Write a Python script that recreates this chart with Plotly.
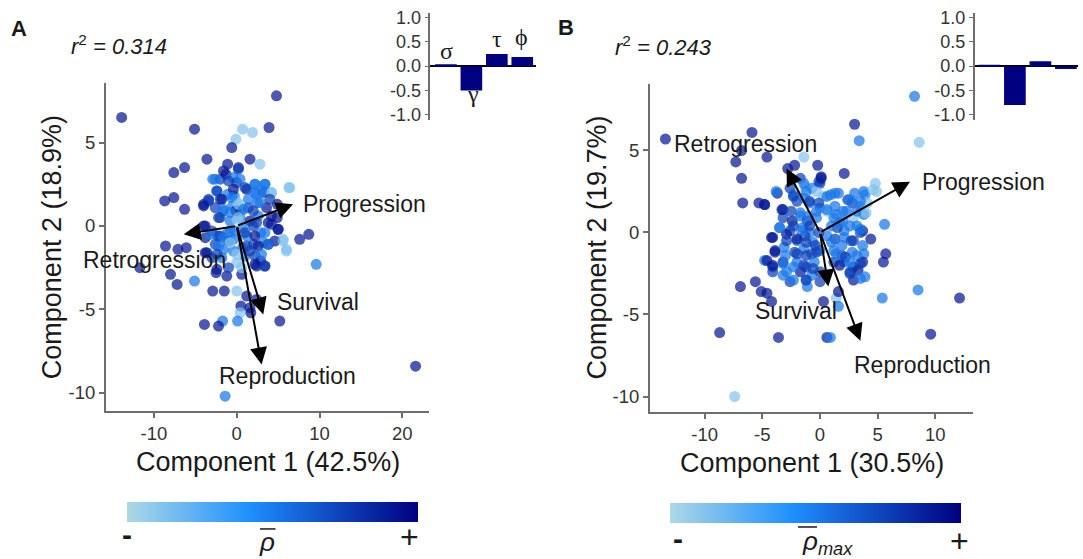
import plotly.graph_objects as go

W, H = 1083, 559
D, M, L = 0.9, 0.52, 0.12
C = 0.74  # darker shade found in the dense cores

# ---------------- Panel A: PCA scores (outer points) ----------------
a_x = [-13.9, 4.8, -5.1, 3.9, 0.7, 1.9, -0.1, -0.6, -3.6, 1.6, 2.8, -6.3, -7.6, -1.1, 0.2, 6.3, 4.2,
       -8.7, -7.6, -6.3, 5.0, 7.6, 8.7, 5.6, 6.0, 9.6, -8.6, -7.1, -6.1, -11.7, -8.0, -7.2, -5.1,
       -2.9, -1.5, 0.0, -2.5, -1.2, 0.6, 2.4, 3.4, 1.2, 0.5, 2.4, 0.4, 0.1, 1.7, -1.7, -3.9, -2.2,
       5.2, 21.6, -1.4,
       -2.9, -2.0, -1.3, -0.4, 0.0, 2.2, 3.4, 1.2, 2.2, 3.2, -2.4, -3.4, -2.0, -1.1, -0.3, -4.0,
       -2.6, -1.6, -0.5, 0.4, 1.4, 2.5, 3.6, 4.9, 0.1, -2.0, -0.8, 0.4, 1.6, 2.6, 3.8, 4.9, 0.0,
       -4.0, -3.0, -3.8, -2.3, -1.1, -0.3, 0.7, 2.0, 2.9, 4.2, -0.8, -2.6, -1.6, -0.4, 0.7, 2.0,
       3.2, 3.8, 4.6, -3.8, -3.0, -1.8, 0.0, 1.0, 2.2, 2.9, 1.6, -1.0, 1.2, -0.1, 0.6]
a_y = [6.5, 7.8, 5.8, 5.9, 5.8, 5.6, 5.2, 4.7, 4.0, 4.0, 3.7, 3.5, 3.2, 3.7, 3.5, 2.3, 2.0,
       1.5, 1.7, 1.0, -0.2, -0.8, -0.5, -0.8, -1.4, -2.3, -1.2, -1.4, -1.3, -2.5, -2.9, -3.5, -3.3,
       -3.9, -3.9, -3.9, -2.8, -3.0, -2.9, -2.4, -2.4, -4.2, -4.8, -4.4, -5.2, -5.7, -5.2, -5.7, -5.9, -6.0,
       -5.7, -8.4, -10.2,
       2.8, 2.8, 3.1, 2.9, 2.6, 2.5, 2.5, 2.2, 2.0, 2.0, 2.1, 1.5, 1.6, 1.9, 1.8, 1.3,
       1.1, 0.9, 1.2, 0.9, 1.1, 1.4, 1.1, 1.3, 1.4, 0.5, 0.3, 0.5, 0.3, 0.6, 0.2, 0.5, 0.4,
       0.0, -0.3, -0.7, -0.6, -0.4, -0.3, -0.1, 0.0, -0.4, 0.1, -0.8, -1.1, -1.4, -1.5, -1.3, -1.1,
       -1.0, -1.1, -0.9, -1.6, -1.9, -1.9, -2.2, -1.8, -1.8, -2.1, -4.9, -0.9, -0.6, 0.9, -2.5]
a_rho = [D, D, D, D, L, L, L, D, D, D, L, D, D, D, D, L, L,
         D, D, D, D, D, D, L, L, M, D, D, D, D, D, D, M,
         D, D, L, D, D, D, D, D, D, D, D, L, M, D, M, D, D,
         D, D, M,
         M, C, D, M, C, M, M, D, M, C, M, D, C, M, M, D,
         C, M, M, M, C, M, D, D, L, C, M, M, D, M, D, D, L,
         D, C, D, C, M, M, M, C, M, D, L, C, M, M, M, C,
         M, D, D, D, C, M, L, M, C, D, D, C, M, D, L]

# Panel A: dense core
a_core_x = [-1.6, 0.2, -2.6, -1.0, 0.4, 2.2, 3.4, -2.4, -0.4, 1.0, 2.4, 3.2, 4.2, 6.4, -3.4, -1.8,
            -0.6, 1.4, 2.8, 4.0, -4.0, 0.2, -1.6, -0.8, 0.8, 2.0, 4.2, -2.2, 0.2, 2.4, 5.0, -3.8,
            -3.2, -2.0, -0.8, -1.6, -0.4, 1.0, 2.2, 3.4, 3.8, 5.6, 6.0, -2.2, -0.8, 1.2, 2.6, -3.6,
            -2.4, 0.0, 1.6, 3.0, 2.2, 3.4, -2.4, -1.0]
a_core_y = [3.3, 3.4, 2.8, 2.7, 2.8, 2.5, 2.5, 2.1, 2.2, 2.3, 1.9, 2.1, 2.0, 2.3, 1.6, 1.6,
            1.7, 1.6, 1.4, 1.6, 1.2, 1.3, 1.0, 0.8, 1.0, 0.9, 0.6, 0.5, 0.5, 0.2, -0.2, 0.0,
            -0.5, -0.6, -0.3, -0.7, -0.8, -0.4, -0.6, -0.4, -1.1, -0.9, -1.5, -1.2, -1.0, -1.2, -1.2, -1.6,
            -1.7, -1.7, -1.5, -1.7, -2.3, -2.4, -2.6, -2.5]
a_core_rho = [D, C, M, C, M, M, M, C, D, C, M, M, L, L, C, D,
              M, M, M, C, D, L, M, M, M, C, D, C, L, C, D, D,
              M, C, M, M, M, C, D, M, M, L, L, M, L, C, D, D,
              C, L, C, M, D, C, D, C]

# ---------------- Panel B: PCA scores (outer points) ----------------
b_x = [-13.4, 8.2, 8.6, 3.0, 3.4, -5.9, -7.3, -6.8, -4.6, -6.8, -6.7, -5.3, -4.8, -1.4, -0.2, 2.1,
       0.1, 4.8, 4.9, 3.9, 5.6, 3.7, 4.4, 5.7, 5.5, -3.7, -8.7, -6.9, -5.6, -5.1, -4.6, -4.2, -3.6,
       0.6, 0.9, 8.5, 5.4, 12.1, 9.6, -7.4, 0.3, 1.4,
       -2.8, -2.2, -1.7, 0.0, -1.3, -0.7, -0.3, -3.2, -2.3, -2.0, -1.4, -0.9, 0.3, 0.9, 1.6, 2.4,
       3.0, 0.0, 0.6, 1.3, 2.0, 2.8, 3.5, 4.1, -3.2, -2.4, -1.7, -1.1, -0.3, -3.5, -4.1, -2.6,
       -1.5, -0.9, 1.2, 2.0, 2.9, 3.8, 3.2, 2.1, 1.5, -2.9, -2.0, -1.3, -0.6, 0.6, 1.3, 2.1, 2.9,
       3.7, 3.5, -3.9, -3.1, -2.2, -1.4, -0.7, 0.0, 1.2, 1.9, 2.8, 3.8, -4.8, -4.1, -3.2, -2.0,
       -1.2, -0.5, 1.2, 2.1, 2.9, 3.7, -4.1, -2.9, -1.7, -0.7, 0.0, 2.6, 3.3, -2.6, -1.2, 0.0,
       2.9, 3.9, -1.1, 1.6, 1.6]
b_y = [5.7, 8.3, 5.5, 6.6, 5.6, 6.1, 4.3, 5.0, 4.6, 3.3, 1.8, 1.8, 1.7, 4.6, 4.1, 3.6,
       3.4, 3.0, 2.5, 2.3, 0.5, 0.1, -0.4, -1.3, -1.8, 2.4, -6.1, -3.3, -3.0, -3.6, -3.7, -4.2, -6.4,
       -6.4, -6.4, -3.5, -4.0, -4.0, -6.2, -10.0, -4.2, -4.0,
       3.9, 4.1, 3.3, 3.0, 2.8, 2.7, 2.5, 1.4, 2.3, 1.9, 2.1, 1.8, 2.2, 2.3, 2.4, 2.0,
       2.4, 1.5, 1.3, 1.6, 1.3, 1.8, 1.6, 1.8, 0.9, 0.7, 1.0, 0.7, 0.9, 0.3, -0.3, 0.1,
       0.3, 0.0, 0.9, 0.7, 0.9, 1.1, 0.4, 0.1, 0.3, -0.1, -0.5, -0.2, -0.6, -0.2, -0.4, -0.3, -0.5,
       -0.8, 0.0, -1.1, -0.9, -1.2, -1.0, -1.3, -1.1, -1.1, -1.4, -1.2, -1.3, -1.7, -2.1, -1.8, -1.8,
       -2.1, -1.8, -1.8, -1.8, -2.1, -1.8, -2.4, -2.4, -2.4, -2.6, -2.4, -2.4, -2.3, -3.0, -2.9, -3.0,
       -2.9, -2.7, -3.3, -3.6, -4.5]
b_rho = [D, M, L, D, M, D, D, D, D, D, D, D, D, L, D, D,
         D, L, L, M, M, D, D, D, D, D, D, D, D, D, D, D, D,
         D, M, M, M, D, D, L, D, L,
         D, D, C, C, L, M, L, C, M, C, M, M, L, M, M, C,
         M, M, L, M, M, C, M, L, C, D, M, C, M, M, D, C,
         M, M, M, M, L, M, M, M, C, D, M, C, M, M, C, M, C,
         M, C, D, M, C, M, C, M, M, C, M, M, M, C, D, M,
         C, M, C, M, C, D, C, M, D, M, C, C, D, C, M, C,
         D, M, M, D, M]

# Panel B: dense core
b_core_x = [-4.8, -3.8, -2.6, -2.3, -1.4, -1.2, -0.1, 0.1, -0.9, -0.1, 0.6, 1.3, 2.6, 3.5, 3.8, 4.6,
            -3.3, -2.5, -1.7, -1.0, -0.3, 0.6, 1.4, 2.3, 3.2, 4.0, -4.2, -3.5, -2.3, -1.6, -0.9, -0.1,
            1.0, 1.7, 2.6, 3.5, -2.9, -2.0, -1.2, -0.4, 1.0, 1.9, 2.7, -3.9, -3.0, -2.0, -1.2, -0.3,
            1.4, 2.2, 3.2, -4.6, -4.1, -3.2, -2.3, -1.4, -0.6, 1.7, 2.6, 3.5, -3.2, -2.3, 2.6, 3.5, -1.2]
b_core_y = [1.7, 2.5, 2.7, 2.2, 3.0, 2.5, 3.1, 3.3, 1.9, 1.8, 2.2, 2.4, 2.0, 1.9, 2.5, 2.6,
            1.4, 1.3, 1.2, 1.0, 1.3, 1.4, 1.1, 1.3, 1.3, 1.2, -0.3, 0.3, 0.4, 0.1, 0.4, 0.0,
            0.4, 0.6, 0.4, 0.2, -0.5, -0.4, -0.6, -0.8, -0.6, -0.8, -0.5, -1.2, -1.4, -1.3, -1.4, -1.2,
            -1.3, -1.5, -1.4, -1.7, -2.0, -1.9, -2.1, -2.0, -2.2, -2.0, -1.8, -1.9, -2.6, -2.9, -2.5, -2.8, -2.9]
b_core_rho = [D, M, C, C, M, M, C, D, C, C, M, M, M, M, M, L,
              D, C, M, M, M, M, M, M, M, L, D, M, C, M, C, C,
              M, M, M, M, C, D, C, C, M, M, C, D, M, C, C, C,
              M, C, M, D, D, M, M, C, C, D, M, C, M, M, C, M, C]

# ---------------- loadings (arrows) ----------------
arrow_names = ["Progression", "Retrogression", "Survival", "Reproduction"]
a_load_x = [6.8, -6.4, 3.2, 3.0]
a_load_y = [1.3, -0.5, -5.3, -8.3]
b_load_x = [7.8, -2.9, 0.72, 3.5]
b_load_y = [3.1, 3.9, -3.3, -6.6]

# ---------------- inset bar values ----------------
bar_labels = ["σ", "γ", "τ", "ϕ"]
a_bars = [0.04, -0.50, 0.25, 0.19]
b_bars = [0.02, -0.80, 0.10, -0.06]

# tick labels
a_xticks = [-10, 0, 10, 20]
b_xticks = [-10, -5, 0, 5, 10]
main_yticks = [-10, -5, 0, 5]
inset_yticks = [-1.0, -0.5, 0.0, 0.5, 1.0]

COLORSCALE = [[0.0, "#add8e6"], [0.42, "#1e90ff"], [1.0, "#000080"]]
FONT = "Liberation Sans"
TXT = "#1a1a1a"
AXC = "#6e6e6e"


def px(x):
    return x / W


def py(y):
    return 1 - y / H


fig = go.Figure()

for xs, ys, cs, xa, ya, ca in [
    (a_x + a_core_x, a_y + a_core_y, a_rho + a_core_rho, "x", "y", "coloraxis"),
    (b_x + b_core_x, b_y + b_core_y, b_rho + b_core_rho, "x2", "y2", "coloraxis2"),
]:
    fig.add_trace(go.Scatter(x=xs, y=ys, mode="markers", xaxis=xa, yaxis=ya,
                             marker=dict(size=11, color=cs, coloraxis=ca, opacity=0.72,
                                         line=dict(width=0)),
                             hoverinfo="skip", showlegend=False))

fig.add_trace(go.Bar(x=list(range(4)), y=a_bars, xaxis="x3", yaxis="y3", marker_color="#000080",
                     marker_line_width=0, showlegend=False, width=0.85))
fig.add_trace(go.Bar(x=list(range(4)), y=b_bars, xaxis="x4", yaxis="y4", marker_color="#000080",
                     marker_line_width=0, showlegend=False, width=0.85))

tickfont = dict(family=FONT, size=18.5, color="#333333")
main_axis = dict(showgrid=False, zeroline=False, showline=True, linecolor=AXC, linewidth=2,
                 ticks="outside", ticklen=5, tickcolor=AXC, tickwidth=1.5, tickfont=tickfont,
                 mirror=False)
inset_axis = dict(range=[-1.1, 1.1], showgrid=False, zeroline=True,
                  zerolinecolor="black", zerolinewidth=1.5, showline=True, linecolor=AXC, linewidth=1.5,
                  ticks="outside", ticklen=4, tickcolor=AXC, tickvals=inset_yticks,
                  ticktext=["%.1f" % v for v in inset_yticks],
                  tickfont=dict(family=FONT, size=18, color="#333333"))
cbar = dict(orientation="h", xanchor="center", yanchor="middle", len=291, lenmode="pixels",
            thickness=20, xpad=0, ypad=0, showticklabels=False, ticks="", outlinewidth=0)

fig.update_layout(
    width=W, height=H, margin=dict(l=0, r=0, t=0, b=0),
    paper_bgcolor="white", plot_bgcolor="white", showlegend=False,
    xaxis=dict(main_axis, domain=[px(106), px(429)], range=[-15.79, 23.22],
               tickvals=a_xticks, ticktext=[str(v) for v in a_xticks], anchor="y"),
    yaxis=dict(main_axis, domain=[py(413.3), py(79)], range=[-11.08, 8.59],
               tickvals=main_yticks, ticktext=[str(v) for v in main_yticks], anchor="x"),
    xaxis2=dict(main_axis, domain=[px(650), px(972.8)], range=[-14.74, 13.25],
                tickvals=b_xticks, ticktext=[str(v) for v in b_xticks], anchor="y2"),
    yaxis2=dict(main_axis, domain=[py(414), py(80)], range=[-10.92, 9.08],
                tickvals=main_yticks, ticktext=[str(v) for v in main_yticks], anchor="x2"),
    xaxis3=dict(domain=[px(430.4), px(535.5)], range=[-0.61, 3.52], visible=False, anchor="y3"),
    yaxis3=dict(inset_axis, domain=[py(116.6), py(8)], anchor="x3"),
    xaxis4=dict(domain=[px(974.6), px(1078.4)], range=[-0.58, 3.49], visible=False, anchor="y4"),
    yaxis4=dict(inset_axis, domain=[py(116.6), py(8)], anchor="x4"),
    coloraxis=dict(colorscale=COLORSCALE, cmin=0, cmax=1,
                   colorbar=dict(cbar, x=px(272), y=py(516.5))),
    coloraxis2=dict(colorscale=COLORSCALE, cmin=0, cmax=1,
                    colorbar=dict(cbar, x=px(815), y=py(517.5))),
)

ann = []


def paper_text(text, x, y, size, xanchor="center", yanchor="middle", angle=0, family=FONT, color=TXT):
    ann.append(dict(text=text, x=px(x), y=py(y), xref="paper", yref="paper", showarrow=False,
                    xanchor=xanchor, yanchor=yanchor, textangle=angle,
                    font=dict(family=family, size=size, color=color)))


# panel letters and r2
paper_text("<b>A</b>", 19, 24, 22)
paper_text("<i>r</i><sup>2</sup><i> = 0.314</i>", 119, 40.6, 22)
paper_text("<b>B</b>", 566, 22.5, 22)
paper_text("<i>r</i><sup>2</sup><i> = 0.243</i>", 663.7, 41.5, 22)

# axis titles
paper_text("Component 2 (18.9%)", 51.6, 247, 27, angle=-90)
paper_text("Component 1 (42.5%)", 267.7, 464.9, 27)
paper_text("Component 2 (19.7%)", 597, 247, 27, angle=-90)
paper_text("Component 1 (30.5%)", 811.8, 466, 27)

# inset greek labels (panel A)
greek_pos = [(446, 46.5), (472.5, 91), (496.6, 34.4), (521.7, 32.7)]
for lab, (gx, gy) in zip(bar_labels, greek_pos):
    paper_text(lab, gx, gy, 24, family="Liberation Serif")

# colorbar labels
paper_text("<b>-</b>", 127.4, 539, 30)
paper_text("+", 409.8, 542, 32)
paper_text("<i>ρ</i>", 266.9, 547, 26)
paper_text("<b>-</b>", 677.8, 543, 30)
paper_text("+", 959.7, 546, 32)
paper_text("<i>ρ<sub>max</sub></i>", 800, 547, 26, xanchor="left")

# arrows (loadings)
for axn, lx, ly in [("", a_load_x, a_load_y), ("2", b_load_x, b_load_y)]:
    for tx, ty in zip(lx, ly):
        ann.append(dict(x=tx, y=ty, ax=0, ay=0, xref="x" + axn, yref="y" + axn,
                        axref="x" + axn, ayref="y" + axn, text="", showarrow=True,
                        arrowhead=2, arrowsize=1.7, arrowwidth=2, arrowcolor="black",
                        standoff=0, startstandoff=0))

# arrow labels
a_lab = [(7.7, 1.3, "left"), (-9.9, -2.06, "center"), (4.6, -4.57, "left"), (6.1, -9.0, "center")]
b_lab = [(8.7, 3.1, "left"), (-12.8, 5.4, "left"), (-2.1, -4.8, "center"), (2.8, -8.1, "left")]
for axn, labs in [("", a_lab), ("2", b_lab)]:
    for name, (lx, ly, anc) in zip(arrow_names, labs):
        ann.append(dict(text=name, x=lx, y=ly, xref="x" + axn, yref="y" + axn, showarrow=False,
                        xanchor=anc, yanchor="middle", font=dict(family=FONT, size=23, color=TXT)))

fig.update_layout(annotations=ann)

# overbars on rho
fig.add_shape(type="line", xref="paper", yref="paper", x0=px(260), x1=px(275.5), y0=py(533.5),
              y1=py(533.5), line=dict(color=TXT, width=1.5))
fig.add_shape(type="line", xref="paper", yref="paper", x0=px(798), x1=px(817), y0=py(531.5),
              y1=py(531.5), line=dict(color=TXT, width=1.5))

fig.write_html("out.html", config={"displayModeBar": False},
               post_script="document.body.style.margin='0px';document.body.style.overflow='hidden';")
